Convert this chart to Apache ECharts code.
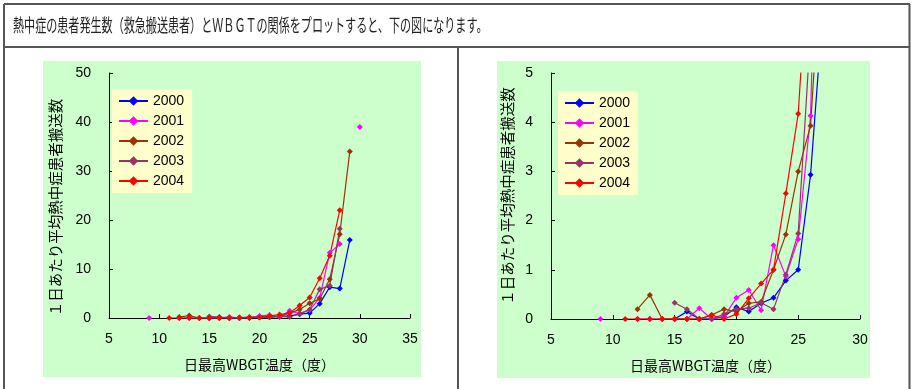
<!DOCTYPE html>
<html>
<head>
<meta charset="utf-8">
<script src="https://cdn.jsdelivr.net/npm/echarts@6/dist/echarts.min.js"></script>
<style>
html, body { margin: 0; padding: 0; background: #fff; }
#main { width: 914px; height: 389px; }
</style>
</head>
<body>
<div id="main"></div>
<script>
// 日最高WBGT温度（度）
var wbgt = [9, 10, 11, 12, 13, 14, 15, 16, 17, 18, 19, 20, 21, 22, 23, 24, 25, 26, 27, 28, 29, 30];
// 1日あたり平均熱中症患者搬送数
var y2000 = [null, null, null, null, null, null, 0, 0.15, 0, 0, 0.05, 0.24, 0.15, 0.32, 0.43, 0.78, 1.0, 2.93, 6.3, 6.0, 15.9, null];
var y2001 = [0, null, null, 0, 0, 0, 0, 0, 0.22, 0, 0.05, 0.43, 0.59, 0.18, 1.5, 0.87, 1.62, 4.13, 13.3, 15.1, null, 39];
var y2002 = [null, null, null, 0.2, 0.49, 0, 0, 0, 0, 0.08, 0.2, 0.15, 0.32, 0.35, 1.0, 1.72, 3.0, 3.93, 7.9, 17.1, 34, null];
var y2003 = [null, null, null, null, null, null, 0.33, 0.2, 0, 0, 0.1, 0.2, 0.22, 0.33, 0.2, 0.9, 1.74, 5.85, 6.6, 18.2, null, null];
var y2004 = [null, null, 0, 0, 0, 0, 0, 0, 0, 0.08, 0, 0.1, 0.42, 0.72, 1.0, 2.55, 4.17, 8.1, 12.7, 22, null, null];

var years = ['2000', '2001', '2002', '2003', '2004'];
var yearData = [y2000, y2001, y2002, y2003, y2004];
var colors = ['#0000FF', '#FF00FF', '#993300', '#993366', '#FF0000'];

var headText = '熱中症の患者発生数（救急搬送患者）とＷＢＧＴの関係をプロットすると、下の図になります。';
var yName = '１日あたり平均熱中症患者搬送数';
var xName = '日最高WBGT温度（度）';

var myChart = echarts.init(document.getElementById('main'));

var numFont = 'Liberation Sans';
var jpFont = 'Noto Sans CJK JP';

//系列を作る
function makeSeries(idx) {
    var list = [];
    for (var i = 0; i < years.length; i++) {
        var pts = [];
        for (var j = 0; j < wbgt.length; j++) {
            pts.push([wbgt[j], yearData[i][j] == null ? '-' : yearData[i][j]]);
        }
        list.push({
            name: years[i],
            type: 'line',
            xAxisIndex: idx,
            yAxisIndex: idx,
            data: pts,
            symbol: 'diamond',
            symbolSize: 6,
            color: colors[i],
            lineStyle: {width: 1.2},
            connectNulls: false,
            clip: true,
            animation: false
        });
    }
    return list;
}

function xAxisOf(idx, max) {
    return {
        type: 'value',
        gridIndex: idx,
        min: 5,
        max: max,
        interval: 5,
        splitLine: {show: false},
        axisLine: {show: true, onZero: false, lineStyle: {color: '#000', width: 1}},
        axisTick: {show: true, inside: true, length: 4, lineStyle: {color: '#000'}},
        axisLabel: {color: '#000', fontSize: 14, fontFamily: numFont, margin: 14},
        name: xName,
        nameLocation: 'middle',
        nameGap: 40,
        nameTextStyle: {color: '#000', fontSize: 14, fontFamily: jpFont}
    };
}

function yAxisOf(idx, max, interval, gap, pad) {
    return {
        type: 'value',
        gridIndex: idx,
        min: 0,
        max: max,
        interval: interval,
        splitLine: {show: false},
        axisLine: {show: true, lineStyle: {color: '#000', width: 1}},
        axisTick: {show: true, inside: true, length: 4, lineStyle: {color: '#000'}},
        axisLabel: {color: '#000', fontSize: 14, fontFamily: numFont, margin: 18},
        name: yName,
        nameLocation: 'middle',
        nameRotate: 90,
        nameGap: gap,
        nameTextStyle: {color: '#000', fontSize: 14.5, fontFamily: jpFont, padding: pad}
    };
}

function legendOf(left, top) {
    return {
        data: years,
        orient: 'vertical',
        left: left,
        top: top,
        backgroundColor: '#FFFFCC',
        padding: [5, 8, 5, 6],
        itemWidth: 29,
        itemHeight: 12,
        itemGap: 6,
        textStyle: {color: '#000', fontSize: 14, fontFamily: numFont}
    };
}

var option = {
    animation: false,
    backgroundColor: '#fff',
    graphic: [
        //緑の背景
        {type: 'rect', z: -10, shape: {x: 43, y: 61, width: 378, height: 316}, style: {fill: '#CCFFCC'}},
        {type: 'rect', z: -10, shape: {x: 497, y: 61, width: 373, height: 317}, style: {fill: '#CCFFCC'}},
        //枠線
        {type: 'line', shape: {x1: 4, y1: 4, x2: 910, y2: 4}, style: {stroke: '#555', lineWidth: 2}},
        {type: 'line', shape: {x1: 4, y1: 4, x2: 4, y2: 389}, style: {stroke: '#555', lineWidth: 2}},
        {type: 'line', shape: {x1: 909.5, y1: 4, x2: 909.5, y2: 389}, style: {stroke: '#555', lineWidth: 2}},
        {type: 'line', shape: {x1: 4, y1: 47, x2: 910, y2: 47}, style: {stroke: '#555', lineWidth: 2}},
        {type: 'line', shape: {x1: 458, y1: 47, x2: 458, y2: 389}, style: {stroke: '#555', lineWidth: 2}},
        //見出し
        {
            type: 'text', x: 13, y: 25, scaleX: 0.615,
            style: {text: headText, fill: '#222', font: '18px "Noto Sans CJK JP"', verticalAlign: 'middle', align: 'left'}
        }
    ],
    legend: [legendOf(112, 89), legendOf(558, 91)],
    grid: [
        {left: 109, top: 73, width: 301, height: 245},
        {left: 551, top: 73, width: 309, height: 246}
    ],
    xAxis: [xAxisOf(0, 35), xAxisOf(1, 30)],
    yAxis: [yAxisOf(0, 50, 10, 46, [0, 24, 0, 0]), yAxisOf(1, 5, 1, 36, [0, 0, 0, 0])],
    series: makeSeries(0).concat(makeSeries(1))
};

myChart.setOption(option);
</script>
</body>
</html>
